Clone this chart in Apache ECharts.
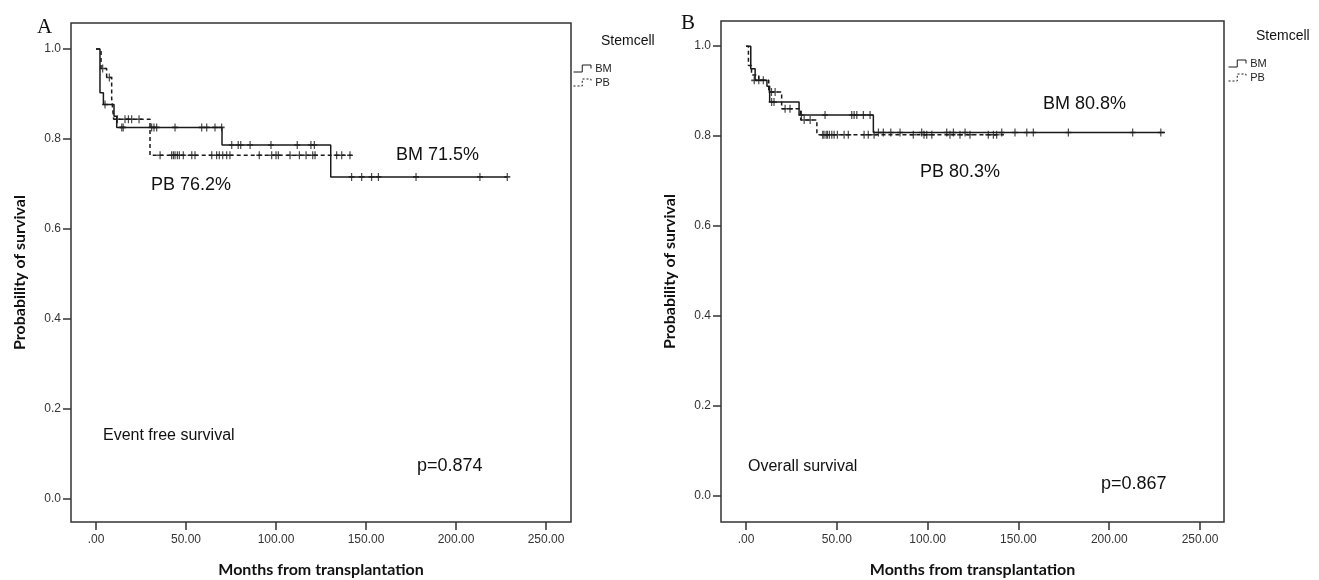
<!DOCTYPE html>
<html>
<head>
<meta charset="utf-8">
<title>Stemcell survival</title>
<script src="https://cdn.jsdelivr.net/npm/echarts@6/dist/echarts.min.js"></script>
<style>
  html, body { margin: 0; padding: 0; background: #fff; }
  #chart { width: 1319px; height: 580px; }
</style>
</head>
<body>
<div id="chart"></div>
<script>
// axis ticks
const xTicks = [0, 50, 100, 150, 200, 250]
const yTicks = [0, 0.2, 0.4, 0.6, 0.8, 1.0]

// Panel A - event free survival, KM steps [months, survival]
const efsBmSteps = [[0, 1.0], [2.2, 0.903], [4.1, 0.877], [10, 0.851], [11.5, 0.826], [70, 0.787], [130.4, 0.716], [228.5, 0.716]]
const efsPbSteps = [[0, 1.0], [2.8, 0.957], [5.9, 0.937], [8.7, 0.89], [9.8, 0.844], [30, 0.764], [142, 0.764]]
// censored cases [months, survival]
const efsBmCensor = [
  [5, 0.877],
  [14.3, 0.826], [15.1, 0.826], [30.9, 0.826], [32.2, 0.826], [33.7, 0.826], [43.9, 0.826], [58.7, 0.826], [61.5, 0.826], [66.1, 0.826], [69.8, 0.826],
  [75.4, 0.787], [79, 0.787], [80.4, 0.787], [85.6, 0.787], [97.2, 0.787], [111.8, 0.787], [119.4, 0.787], [121.3, 0.787],
  [142, 0.716], [147.6, 0.716], [153.1, 0.716], [156.9, 0.716], [177.8, 0.716], [213.3, 0.716], [228.5, 0.716]
]
const efsPbCensor = [
  [3.7, 0.957], [7.4, 0.937],
  [11.9, 0.844], [16.1, 0.844], [18, 0.844], [19.8, 0.844], [23.9, 0.844],
  [35.6, 0.764], [42, 0.764], [43, 0.764], [43.9, 0.764], [45.2, 0.764], [46.3, 0.764], [48.5, 0.764], [53.2, 0.764], [55, 0.764],
  [64.3, 0.764], [67, 0.764], [68.5, 0.764], [70.4, 0.764], [72.6, 0.764], [74.4, 0.764], [90.7, 0.764], [97.6, 0.764], [100, 0.764],
  [101.3, 0.764], [107.8, 0.764], [113, 0.764], [116.7, 0.764], [120.4, 0.764], [121.7, 0.764], [133.7, 0.764], [136.5, 0.764], [141.1, 0.764]
]

// Panel B - overall survival
const osBmSteps = [[0, 1.0], [2.6, 0.95], [5, 0.924], [11.5, 0.911], [13, 0.876], [29.2, 0.847], [70.1, 0.808], [230.7, 0.808]]
const osPbSteps = [[0, 1.0], [1.3, 0.957], [3, 0.936], [7, 0.924], [12.5, 0.898], [19.6, 0.861], [30.1, 0.836], [39, 0.803], [142, 0.803]]
const osBmCensor = [
  [4.5, 0.924], [7, 0.924], [9.5, 0.924],
  [14.1, 0.876], [15.4, 0.876],
  [30.5, 0.847], [43.5, 0.847], [58.2, 0.847], [59.5, 0.847], [61, 0.847], [64.6, 0.847], [68.3, 0.847],
  [72.9, 0.808], [75.6, 0.808], [79.7, 0.808], [84.8, 0.808], [96.7, 0.808], [110.5, 0.808], [114.2, 0.808], [120.6, 0.808],
  [140.8, 0.808], [148.1, 0.808], [154.6, 0.808], [158.2, 0.808], [177.5, 0.808], [212.9, 0.808], [228.4, 0.808]
]
const osPbCensor = [
  [14, 0.898], [16, 0.898],
  [21.5, 0.861], [24.2, 0.861],
  [32, 0.836], [35.3, 0.836],
  [42.2, 0.803], [42.9, 0.803], [44.1, 0.803], [44.8, 0.803], [45.9, 0.803], [47.2, 0.803], [48.5, 0.803], [50.3, 0.803],
  [54, 0.803], [56.3, 0.803], [65, 0.803], [67.3, 0.803], [70.5, 0.803], [92.1, 0.803], [98, 0.803], [99.5, 0.803],
  [102.3, 0.803], [112.3, 0.803], [117.8, 0.803], [123.3, 0.803], [133.4, 0.803], [136.2, 0.803], [138, 0.803]
]

const ink = '#1a1a1a'
const censorSymbol = 'path://M0,5 L10,5 M5,0 L5,10'
const stepIcon = 'path://M0,9 L10,9 L10,1 L20,1 L20,5'

const tickFont = { fontFamily: 'Liberation Sans, Arial', fontSize: 12, color: '#333' }
const axisTitleFont = { fontFamily: 'Lato', fontWeight: 'bold', fontSize: 16, color: '#111' }

const makeX = (gridIndex, min, max) => ({
  type: 'value',
  gridIndex,
  min,
  max,
  axisLine: { show: false, onZero: false },
  splitLine: { show: false },
  axisTick: { show: true, length: 8, customValues: xTicks, lineStyle: { color: '#333', width: 1.5 } },
  axisLabel: {
    customValues: xTicks,
    margin: 12,
    ...tickFont,
    formatter: v => v === 0 ? '.00' : v.toFixed(2)
  },
  name: 'Months from transplantation',
  nameLocation: 'middle',
  nameGap: 40,
  nameTextStyle: axisTitleFont
})

const makeY = (gridIndex, min, max) => ({
  type: 'value',
  gridIndex,
  min,
  max,
  axisLine: { show: false, onZero: false },
  splitLine: { show: false },
  axisTick: { show: true, length: 8, customValues: yTicks, lineStyle: { color: '#333', width: 1.5 } },
  axisLabel: {
    customValues: yTicks,
    margin: 10,
    ...tickFont,
    formatter: v => v.toFixed(1)
  },
  name: 'Probability of survival',
  nameLocation: 'middle',
  nameGap: 43,
  nameRotate: 90,
  nameTextStyle: axisTitleFont
})

const stepSeries = (name, idx, data, dashed) => ({
  name,
  type: 'line',
  xAxisIndex: idx,
  yAxisIndex: idx,
  step: 'end',
  data,
  showSymbol: false,
  silent: true,
  lineStyle: { color: ink, width: 1.5, type: dashed ? [4, 3] : 'solid' },
  itemStyle: { color: ink }
})

const censorSeries = (name, idx, data) => ({
  name,
  type: 'scatter',
  xAxisIndex: idx,
  yAxisIndex: idx,
  data,
  symbol: censorSymbol,
  symbolSize: [6, 8],
  silent: true,
  itemStyle: { color: 'transparent', borderColor: ink, borderWidth: 1.4 }
})

const textBox = (text, left, top, size, family) => ({
  text,
  left,
  top,
  padding: 0,
  textStyle: { fontFamily: family || 'Liberation Sans, Arial', fontSize: size, fontWeight: 'normal', color: '#111' }
})

const legendFor = (left, top) => ({
  left,
  top,
  orient: 'vertical',
  padding: 0,
  itemWidth: 26,
  itemHeight: 7,
  itemGap: 3,
  selectedMode: false,
  textStyle: { fontFamily: 'Liberation Sans, Arial', fontSize: 11, color: '#222', padding: [0, 0, 0, -5] },
  data: [
    { name: 'BM', icon: stepIcon, itemStyle: { color: 'transparent', borderColor: ink, borderWidth: 1 } },
    { name: 'PB', icon: stepIcon, itemStyle: { color: 'transparent', borderColor: ink, borderWidth: 1, borderType: [2, 2] } }
  ]
})

const gridBox = (left, top, width, height) => ({
  left, top, width, height,
  show: true,
  borderColor: '#333',
  borderWidth: 1.5,
  backgroundColor: '#fff',
  outerBoundsMode: 'none',
  containLabel: false
})

const chart = echarts.init(document.getElementById('chart'))

chart.setOption({
  animation: false,
  backgroundColor: '#fff',
  title: [
    textBox('A', 37, 17, 21, 'Liberation Serif'),
    textBox('B', 681, 13, 21, 'Liberation Serif'),
    textBox('Stemcell', 601, 34, 14),
    textBox('Stemcell', 1256, 29, 14),
    textBox('PB 76.2%', 151, 176, 18),
    textBox('BM 71.5%', 396, 146, 18),
    textBox('Event free survival', 103, 428, 16),
    textBox('p=0.874', 417, 457, 18),
    textBox('BM 80.8%', 1043, 95, 18),
    textBox('PB 80.3%', 920, 163, 18),
    textBox('Overall survival', 748, 459, 16),
    textBox('p=0.867', 1101, 475, 18)
  ],
  legend: [legendFor(573, 63), legendFor(1228, 58)],
  grid: [gridBox(71, 23, 500, 499), gridBox(721, 21, 503, 501)],
  xAxis: [makeX(0, -13.9, 263.9), makeX(1, -13.8, 263.2)],
  yAxis: [makeY(0, -0.051, 1.058), makeY(1, -0.058, 1.056)],
  series: [
    stepSeries('BM', 0, efsBmSteps, false),
    stepSeries('PB', 0, efsPbSteps, true),
    censorSeries('BM censored', 0, efsBmCensor),
    censorSeries('PB censored', 0, efsPbCensor),
    stepSeries('BM', 1, osBmSteps, false),
    stepSeries('PB', 1, osPbSteps, true),
    censorSeries('BM censored', 1, osBmCensor),
    censorSeries('PB censored', 1, osPbCensor)
  ]
})

window.addEventListener('resize', () => chart.resize())
</script>
</body>
</html>
